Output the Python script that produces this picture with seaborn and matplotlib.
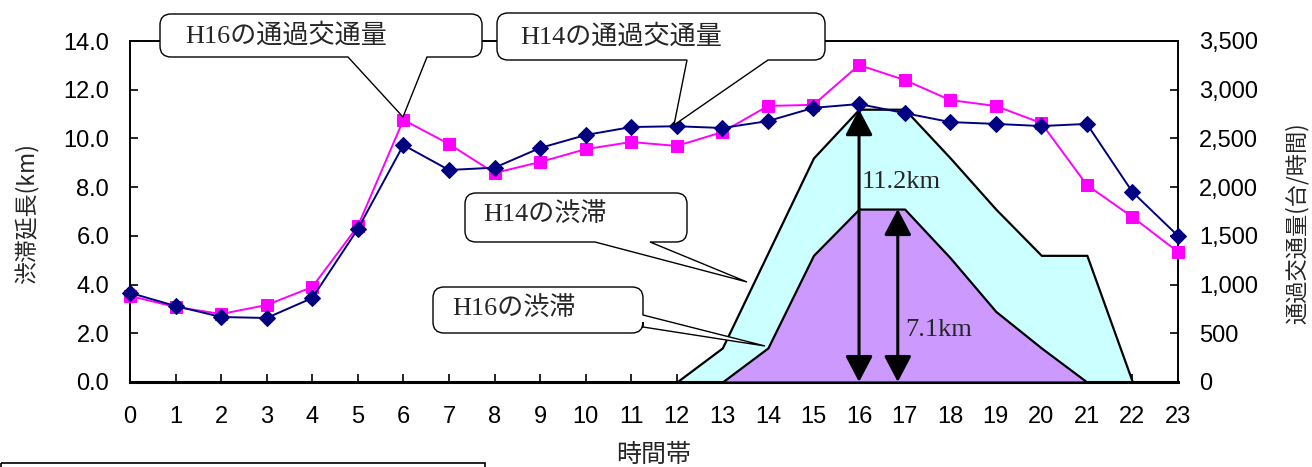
import numpy as np
import pandas as pd
import matplotlib
matplotlib.use("Agg")
import matplotlib.pyplot as plt
import seaborn as sns
from matplotlib.path import Path
from matplotlib.patches import PathPatch, Rectangle
from matplotlib.transforms import Affine2D
from matplotlib.ticker import FuncFormatter, MultipleLocator

# ---- data -------------------------------------------------------------
hours = list(range(24))

# through traffic (vehicles / hour)
traffic_h14 = [915, 780, 667, 657, 862, 1570, 2432, 2176, 2200, 2402, 2535, 2617,
               2625, 2607, 2678, 2814, 2853, 2760, 2668, 2649, 2627, 2649, 1950, 1500]
traffic_h16 = [883, 770, 698, 790, 975, 1600, 2690, 2443, 2145, 2258, 2390, 2463,
               2423, 2565, 2833, 2845, 3253, 3100, 2894, 2833, 2658, 2022, 1693, 1335]

# congestion length (km)
jam_h14 = [0, 0, 0, 0, 0, 0, 0, 0, 0, 0, 0, 0,
           0, 1.4, 5.3, 9.2, 11.2, 11.2, 9.2, 7.1, 5.2, 5.2, 0, 0]
jam_h16 = [0, 0, 0, 0, 0, 0, 0, 0, 0, 0, 0, 0,
           0, 0, 1.4, 5.2, 7.1, 7.1, 5.1, 2.9, 1.4, 0, 0, 0]

peak_h14 = (16, 11.2)
peak_h16 = (16.85, 7.1)

callout_texts = ["H16の通過交通量", "H14の通過交通量", "H14の渋滞", "H16の渋滞"]
left_label = "渋滞延長(km)"
right_label = "通過交通量(台/時間)"
x_label = "時間帯"

# ---- style ------------------------------------------------------------
sns.set_theme(style="white")
plt.rcParams["font.family"] = ["Liberation Sans", "Noto Sans CJK JP", "DejaVu Sans"]
SERIF = ["Liberation Serif", "Noto Sans CJK JP"]
CJK = ["Noto Sans CJK JP", "Liberation Sans"]

W, H = 1312, 467
fig = plt.figure(figsize=(W / 100, H / 100), dpi=100)
fig.patch.set_facecolor("white")
ax = fig.add_axes([130 / W, 1 - 382 / H, (1178 - 130) / W, (382 - 41) / H])
ax2 = ax.twinx()

# congestion areas on the km axis
ax.fill_between(hours, 0, jam_h14, facecolor="#CCFFFF", edgecolor="black",
                linewidth=1.6, zorder=2)
ax.fill_between(hours, 0, jam_h16, facecolor="#CC99FF", edgecolor="black",
                linewidth=1.6, zorder=3)

arrow_style = "<|-|>,head_length=0.8,head_width=0.42"
for (xp, yp) in (peak_h14, peak_h16):
    ax.annotate("", xy=(xp, 0), xytext=(xp, yp),
                arrowprops=dict(arrowstyle=arrow_style, mutation_scale=20,
                                color="black", lw=2.2, shrinkA=0, shrinkB=0),
                zorder=4)
ax.text(peak_h14[0] + 0.06, 8.2, f"{peak_h14[1]}km", family=SERIF, fontsize=19,
        va="center", ha="left", zorder=5)
ax.text(peak_h16[0] + 0.17, 2.15, f"{peak_h16[1]}km", family=SERIF, fontsize=19,
        va="center", ha="left", zorder=5)

# traffic lines on the right axis
df = pd.DataFrame({"hour": hours, "H14": traffic_h14, "H16": traffic_h16})
sns.lineplot(data=df, x="hour", y="H16", ax=ax2, color="#FF00FF", marker="s",
             markersize=8.5, markeredgecolor="#FF00FF", linewidth=1.4,
             legend=False, clip_on=False, zorder=5)
sns.lineplot(data=df, x="hour", y="H14", ax=ax2, color="#000080", marker="D",
             markersize=8, markeredgecolor="#000080", linewidth=1.4,
             legend=False, clip_on=False, zorder=6)

# ---- axes -------------------------------------------------------------
ax.set_xlim(0, 23)
ax.set_ylim(0, 14)
ax2.set_ylim(0, 3500)
ax.set_xticks(hours)
ax.yaxis.set_major_locator(MultipleLocator(2))
ax.yaxis.set_major_formatter(FuncFormatter(lambda v, p: f"{v:.1f}"))
ax2.yaxis.set_major_locator(MultipleLocator(500))
ax2.yaxis.set_major_formatter(FuncFormatter(lambda v, p: f"{v:,.0f}"))
ax.set_xlabel("")
ax.set_ylabel("")
ax2.set_xlabel("")
ax2.set_ylabel("")

ax.tick_params(axis="x", direction="in", length=6, width=1.2, color="black",
               labelsize=17, pad=17, bottom=True)
ax.tick_params(axis="y", direction="in", length=6, width=1.2, color="black",
               labelsize=17, pad=15, left=True, right=False)
ax2.tick_params(axis="y", direction="in", length=6, width=1.2, color="black",
                labelsize=17, pad=15, right=True, left=False)
for lab in ax.get_xticklabels() + ax.get_yticklabels() + ax2.get_yticklabels():
    lab.set_color("black")

for sp in ax.spines.values():
    sp.set_color("black")
    sp.set_linewidth(1.4)
ax.spines["bottom"].set_linewidth(2.2)
for name, sp in ax2.spines.items():
    sp.set_visible(name == "right")
    sp.set_color("black")
    sp.set_linewidth(1.4)
ax.spines["right"].set_visible(False)
ax.set_facecolor("none")
ax2.set_facecolor("none")

fig.text(27 / W, 1 - 213 / H, left_label, rotation=90, ha="center", va="center",
         family=CJK, fontsize=16.5)
fig.text(1297 / W, 1 - 223 / H, right_label, rotation=90, ha="center", va="center",
         family=CJK, fontsize=16)
fig.text(654 / W, 1 - 455 / H, x_label, ha="center", va="center", family=CJK,
         fontsize=18)

# ---- callouts (pixel layout, y measured downward) ---------------------
pix = Affine2D().scale(1 / W, -1 / H).translate(0, 1) + fig.transFigure


def callout(x0, y0, x1, y1, side, base, tip, r=11):
    verts = [(x0 + r, y0), (x1 - r, y0), (x1, y0), (x1, y0 + r)]
    codes = [Path.MOVETO, Path.LINETO, Path.CURVE3, Path.CURVE3]
    if side == "right":
        verts += [(x1, base[0]), tip, (x1, base[1])]
        codes += [Path.LINETO] * 3
    verts += [(x1, y1 - r), (x1, y1), (x1 - r, y1)]
    codes += [Path.LINETO, Path.CURVE3, Path.CURVE3]
    if side == "bottom":
        verts += [(base[1], y1), tip, (base[0], y1)]
        codes += [Path.LINETO] * 3
    verts += [(x0 + r, y1), (x0, y1), (x0, y1 - r), (x0, y0 + r), (x0, y0),
              (x0 + r, y0), (x0 + r, y0)]
    codes += [Path.LINETO, Path.CURVE3, Path.CURVE3, Path.LINETO, Path.CURVE3,
              Path.CURVE3, Path.CLOSEPOLY]
    patch = PathPatch(Path(verts, codes), facecolor="white", edgecolor="black",
                      linewidth=1.0, transform=pix, zorder=10)
    fig.add_artist(patch)


boxes = [
    (160, 14, 482, 57, "bottom", (348, 427), (403, 117), (185, 35)),
    (497, 13, 825, 60, "bottom", (687, 768), (674, 125), (520, 36)),
    (465, 193, 687, 242, "bottom", (595, 650), (747, 282), (483, 215)),
    (433, 287, 643, 333, "right", (315, 327), (765, 346), (452, 309)),
]
for (x0, y0, x1, y1, side, base, tip, tpos), txt in zip(boxes, callout_texts):
    callout(x0, y0, x1, y1, side, base, tip)
    fig.text(tpos[0] / W, 1 - tpos[1] / H, txt, family=SERIF, fontsize=18.8,
             ha="left", va="center", zorder=11)

# partly visible note frame at the lower left
fig.add_artist(Rectangle((1, 463), 484, 30, transform=pix, facecolor="none",
                         edgecolor="black", linewidth=1.2, clip_on=False))

fig.savefig("out.png", dpi=100, facecolor="white")
